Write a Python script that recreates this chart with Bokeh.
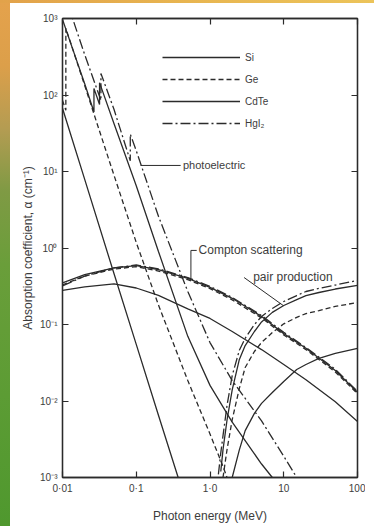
from bokeh.plotting import figure
from bokeh.layouts import row, column
from bokeh.models import (Range1d, LogAxis, FixedTicker, CustomJSTickFormatter,
                          Legend, LegendItem, Label, Arrow, Div)
from bokeh.embed import file_html
from bokeh.resources import INLINE

# ---------------- data ----------------
# photoelectric absorption, E in MeV, alpha in cm^-1
si_pe_E = [0.01, 0.02, 0.05, 0.1, 0.2, 0.37]
si_pe_a = [67, 7.9, 0.46, 0.055, 0.0065, 0.001]
ge_pe_E = [0.01, 0.0111, 0.0111, 0.015, 0.02, 0.03, 0.05, 0.1, 0.2, 0.5, 1.0, 1.5, 1.7]
ge_pe_a = [85, 63, 740, 309, 133, 40, 8.9, 1.18, 0.18, 0.0185, 0.0037, 0.0014, 0.001]
cdte_pe_E = [0.01, 0.015, 0.02, 0.0267, 0.0267, 0.0318, 0.0318, 0.05, 0.1, 0.2, 0.5, 1.0, 2.0, 5.0, 7.0]
cdte_pe_a = [970, 313, 140, 60, 122, 75, 145, 42, 6.5, 0.9, 0.07, 0.016, 0.0053, 0.0015, 0.001]
hgi2_pe_E = [0.012, 0.0148, 0.02, 0.0332, 0.0332, 0.05, 0.083, 0.083, 0.1, 0.2, 0.5, 1.0, 2.0, 5.0, 10.0, 15.0]
hgi2_pe_a = [1500, 800, 337, 85, 191, 64.6, 13.8, 30.8, 18.7, 2.6, 0.27, 0.058, 0.0185, 0.0055, 0.0019, 0.001]

# Compton scattering
compton_E = [0.01, 0.02, 0.05, 0.1, 0.2, 0.5, 1, 2, 5, 10, 20, 50, 100]
si_c = [0.28, 0.31, 0.34, 0.30, 0.24, 0.16, 0.12, 0.081, 0.047, 0.030, 0.019, 0.0098, 0.0054]
ge_c = [0.33, 0.43, 0.53, 0.57, 0.50, 0.385, 0.295, 0.21, 0.122, 0.073, 0.047, 0.024, 0.0125]
cdte_c = [0.35, 0.45, 0.55, 0.59, 0.52, 0.40, 0.305, 0.22, 0.127, 0.076, 0.049, 0.025, 0.013]
hgi2_c = [0.32, 0.43, 0.55, 0.60, 0.535, 0.41, 0.315, 0.226, 0.131, 0.079, 0.050, 0.026, 0.0134]

# pair production
si_pp_E = [2, 2.5, 3, 4, 5, 7, 10, 15, 20, 30, 50, 100]
si_pp_a = [0.001, 0.0023, 0.0041, 0.0069, 0.0093, 0.0129, 0.018, 0.0258, 0.030, 0.036, 0.0418, 0.0486]
ge_pp_E = [1.5, 1.7, 2, 2.5, 3, 4, 5, 7, 10, 15, 20, 30, 50, 100]
ge_pp_a = [0.001, 0.0023, 0.0057, 0.0146, 0.0274, 0.0444, 0.0582, 0.0785, 0.102, 0.124, 0.139, 0.152, 0.172, 0.194]
cdte_pp_E = [1.4, 1.5, 1.7, 2, 2.5, 3, 4, 5, 7, 10, 15, 20, 30, 50, 100]
cdte_pp_a = [0.0012, 0.0023, 0.0056, 0.014, 0.035, 0.053, 0.081, 0.108, 0.144, 0.177, 0.212, 0.239, 0.262, 0.291, 0.324]
hgi2_pp_E = [1.3, 1.4, 1.5, 1.7, 2, 2.5, 3, 4, 5, 7, 10, 15, 20, 30, 50, 100]
hgi2_pp_a = [0.0011, 0.0021, 0.0035, 0.0087, 0.0215, 0.046, 0.066, 0.10, 0.127, 0.162, 0.20, 0.239, 0.27, 0.296, 0.328, 0.376]

materials = ["Si", "Ge", "CdTe", "HgI\u2082"]

x_ticks = [0.01, 0.1, 1, 10, 100]
x_tick_labels = ["0\u00b701", "0\u00b71", "1\u00b70", "10", "100"]
y_ticks = [1e-3, 1e-2, 1e-1, 1, 10, 100, 1000]
y_tick_labels = ["10\u207b\u00b3", "10\u207b\u00b2", "10\u207b\u00b9", "10\u2070", "10\u00b9", "10\u00b2", "10\u00b3"]

# ---------------- styling ----------------
INK = "#2b2b2b"
TXT = "#3c3c3c"
FONT = "Liberation Sans"
LW = 1.3
styles = {
    "Si": dict(line_dash="solid"),
    "Ge": dict(line_dash="5 3"),
    "CdTe": dict(line_dash="solid"),
    "HgI\u2082": dict(line_dash="10 3 2 3"),
}

p = figure(frame_width=295, frame_height=459,
           x_axis_type="log", y_axis_type="log",
           x_range=Range1d(0.01, 100), y_range=Range1d(1e-3, 1e3),
           output_backend="svg", toolbar_location=None,
           min_border_left=52, min_border_top=15, min_border_right=8, min_border_bottom=46,
           background_fill_color="white", border_fill_color="white", margin=0)
p.grid.visible = False
p.outline_line_color = INK
p.outline_line_width = LW


def fmt(tvals, tlabels):
    return CustomJSTickFormatter(args=dict(tvals=tvals, tlabels=tlabels), code="""
        for (let i = 0; i < tvals.length; i++) {
            if (Math.abs(Math.log10(tvals[i]) - Math.log10(tick)) < 1e-6) return tlabels[i];
        }
        return "";
    """)


def style_axis(ax, tvals, tlabels, show_labels=True):
    ax.ticker = FixedTicker(ticks=tvals, minor_ticks=[])
    ax.formatter = fmt(tvals, tlabels)
    ax.axis_line_color = INK
    ax.axis_line_width = LW
    ax.major_tick_line_color = INK
    ax.major_tick_line_width = 1.2
    ax.major_tick_in = 6
    ax.major_tick_out = 0
    ax.minor_tick_in = 0
    ax.minor_tick_out = 0
    ax.major_label_text_font = FONT
    ax.major_label_text_color = TXT
    ax.major_label_text_font_size = "10px" if show_labels else "0px"


xa = p.xaxis[0]
ya = p.yaxis[0]
style_axis(xa, x_ticks, x_tick_labels)
style_axis(ya, y_ticks, y_tick_labels)
xa.major_label_standoff = 5
ya.major_label_standoff = 5
xa.axis_label = "Photon energy (MeV)"
ya.axis_label = "Absorption coefficient, \u03b1 (cm\u207b\u00b9)"
for ax in (xa, ya):
    ax.axis_label_text_font = FONT
    ax.axis_label_text_font_style = "normal"
    ax.axis_label_text_font_size = "12px"
    ax.axis_label_text_color = TXT
xa.axis_label_standoff = 12
ya.axis_label_standoff = 2

top = LogAxis()
style_axis(top, x_ticks, [""] * len(x_ticks), show_labels=False)
right = LogAxis()
style_axis(right, y_ticks, [""] * len(y_ticks), show_labels=False)
p.add_layout(top, "above")
p.add_layout(right, "right")

pe_sets = [(si_pe_E, si_pe_a), (ge_pe_E, ge_pe_a), (cdte_pe_E, cdte_pe_a), (hgi2_pe_E, hgi2_pe_a)]
c_sets = [si_c, ge_c, cdte_c, hgi2_c]
pp_sets = [(si_pp_E, si_pp_a), (ge_pp_E, ge_pp_a), (cdte_pp_E, cdte_pp_a), (hgi2_pp_E, hgi2_pp_a)]

legend_items = []
for m, (pe_E, pe_a), c_a, (pp_E, pp_a) in zip(materials, pe_sets, c_sets, pp_sets):
    st = styles[m]
    r = p.line(pe_E, pe_a, line_color=INK, line_width=LW, **st)
    p.line(compton_E, c_a, line_color=INK, line_width=LW, **st)
    p.line(pp_E, pp_a, line_color=INK, line_width=LW, **st)
    legend_items.append(LegendItem(label=m, renderers=[r]))

legend = Legend(items=legend_items, location=(100, 344), orientation="vertical",
                glyph_width=78, glyph_height=20, label_height=20, spacing=2,
                padding=0, margin=0, border_line_alpha=0, background_fill_alpha=0,
                label_text_font=FONT, label_text_font_size="10px",
                label_text_color=TXT, label_standoff=5)
p.add_layout(legend)

# annotations
ann_font = dict(text_font=FONT, text_color=TXT, text_baseline="middle")
p.add_layout(Label(x=0.43, y=12.0, text="photoelectric", text_font_size="11px", **ann_font))
p.add_layout(Arrow(end=None, x_start=0.115, y_start=12.0, x_end=0.40, y_end=12.0,
                   line_color=INK, line_width=1))
p.add_layout(Label(x=0.70, y=0.93, text="Compton scattering", text_font_size="12px", **ann_font))
p.add_layout(Arrow(end=None, x_start=0.551, y_start=0.93, x_end=0.551, y_end=0.40,
                   line_color=INK, line_width=1))
p.add_layout(Arrow(end=None, x_start=0.551, y_start=0.93, x_end=0.66, y_end=0.93,
                   line_color=INK, line_width=1))
p.add_layout(Label(x=3.85, y=0.424, text="pair production", text_font_size="12px", **ann_font))
p.add_layout(Arrow(end=None, x_start=2.90, y_start=0.411, x_end=9.84, y_end=0.177,
                   line_color=INK, line_width=1))

# ---------------- decorative coloured edges of the scanned page ----------------
left_edge = Div(width=10, height=523, margin=0, styles={
    "width": "10px", "height": "523px",
    "background": "linear-gradient(to bottom, #e4a24c 0%, #dc9f4a 12%, #b49c52 24%, "
                  "#7f9a44 36%, #6a9e3a 50%, #5c9c34 75%, #4f982e 100%)"})
top_edge = Div(width=374, height=3, margin=0, styles={
    "width": "374px", "height": "3px",
    "background": "linear-gradient(to right, #e2a24a 0%, #e8b550 50%, #ecc45a 100%)"})

layout = column(top_edge, row(left_edge, p, spacing=0, margin=0), spacing=0, margin=0)
open("out.html", "w").write(file_html(layout, INLINE))
